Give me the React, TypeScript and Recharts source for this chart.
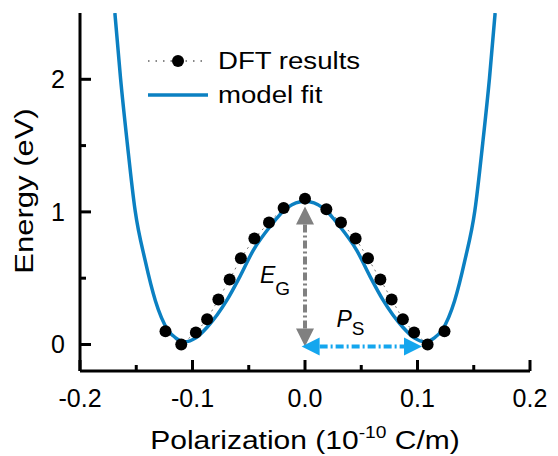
import React from 'react'
import {
  ComposedChart,
  Line,
  XAxis,
  YAxis,
  ReferenceLine,
  ReferenceDot,
  Legend,
} from 'recharts'

// DFT energies along the polarization path
const dftP = [
  -0.124, -0.11, -0.097, -0.087, -0.077, -0.067, -0.057, -0.045, -0.032, -0.019, 0,
  0.019, 0.032, 0.045, 0.056, 0.067, 0.077, 0.087, 0.097, 0.109, 0.124,
]
const dftE = [
  0.1, 0.0, 0.09, 0.19, 0.34, 0.49, 0.65, 0.8, 0.92, 1.03, 1.1,
  1.02, 0.92, 0.8, 0.65, 0.49, 0.34, 0.19, 0.09, 0.0, 0.1,
]

// model fit curve
const fitP = [
  -0.169, -0.164, -0.158, -0.151, -0.142, -0.133, -0.122, -0.115, -0.107, -0.097, -0.087,
  -0.069, -0.058, -0.046, -0.031, -0.016, 0, 0.016, 0.031, 0.046, 0.058, 0.069,
  0.087, 0.097, 0.107, 0.115, 0.122, 0.133, 0.142, 0.151, 0.158, 0.164, 0.169,
]
const fitE = [
  2.5, 2.01, 1.52, 1.01, 0.63, 0.33, 0.11, 0.05, 0.02, 0.05, 0.13,
  0.34, 0.51, 0.71, 0.89, 1.03, 1.08, 1.03, 0.89, 0.71, 0.51, 0.34,
  0.13, 0.05, 0.02, 0.05, 0.11, 0.33, 0.63, 1.01, 1.52, 2.01, 2.5,
]

const xMajor = [-0.2, -0.1, 0, 0.1, 0.2]
const xMinor = [-0.15, -0.05, 0.05, 0.15]
const yMajor = [0, 1, 2]
const yMinor = [0.5, 1.5]

const xDomain: [number, number] = [-0.2, 0.2]
const yDomain: [number, number] = [-0.2, 2.5]

const FONT = '"Liberation Sans", Arial, sans-serif'
const BLUE = '#0b80c2'
const CYAN = '#14a6ee'
const GREY = '#808080'

const dftData = dftP.map((p, i) => ({ p, e: dftE[i] }))
const fitData = fitP.map((p, i) => ({ p, e: fitE[i] }))

const xTicks = [...xMinor, ...xMajor].sort((a, b) => a - b)
const yTicks = [...yMinor, ...yMajor].sort((a, b) => a - b)

const isMajor = (list: number[], v: number) => list.some((m) => Math.abs(m - v) < 1e-9)

function fmtX(v: number) {
  if (Math.abs(v) < 1e-9) return '0.0'
  return v.toFixed(1)
}

function BottomTick(props: any) {
  const { x, y, payload } = props
  const major = isMajor(xMajor, payload.value)
  return (
    <g>
      <line x1={x} x2={x} y1={y} y2={y - (major ? 11 : 6)} stroke="#000" strokeWidth={3} />
      {major && (
        <text x={x} y={y + 36} textAnchor="middle" fontSize={25} fontFamily={FONT} fill="#000">
          {fmtX(payload.value)}
        </text>
      )}
    </g>
  )
}

function TopTick(props: any) {
  const { x, y, payload } = props
  const major = isMajor(xMajor, payload.value)
  return <line x1={x} x2={x} y1={y} y2={y + (major ? 11 : 6)} stroke="#000" strokeWidth={3} />
}

function LeftTick(props: any) {
  const { x, y, payload } = props
  const major = isMajor(yMajor, payload.value)
  return (
    <g>
      <line x1={x} x2={x + (major ? 11 : 6)} y1={y} y2={y} stroke="#000" strokeWidth={3} />
      {major && (
        <text x={x - 15} y={y + 9} textAnchor="end" fontSize={25} fontFamily={FONT} fill="#000">
          {String(payload.value)}
        </text>
      )}
    </g>
  )
}

function RightTick(props: any) {
  const { x, y, payload } = props
  const major = isMajor(yMajor, payload.value)
  return <line x1={x} x2={x - (major ? 11 : 6)} y1={y} y2={y} stroke="#000" strokeWidth={3} />
}

function Arrow(props: any, color: string, dash: string) {
  const { x1, y1, x2, y2 } = props
  const dx = x2 - x1
  const dy = y2 - y1
  const len = Math.sqrt(dx * dx + dy * dy) || 1
  const ux = dx / len
  const uy = dy / len
  const hl = 18
  const hw = 9
  const head = (ax: number, ay: number, dirx: number, diry: number) => {
    const bx = ax - dirx * hl
    const by = ay - diry * hl
    return `${ax},${ay} ${bx - diry * hw},${by + dirx * hw} ${bx + diry * hw},${by - dirx * hw}`
  }
  return (
    <g>
      <line
        x1={x1 + ux * hl}
        y1={y1 + uy * hl}
        x2={x2 - ux * hl}
        y2={y2 - uy * hl}
        stroke={color}
        strokeWidth={4}
        strokeDasharray={dash}
      />
      <polygon points={head(x1, y1, -ux, -uy)} fill={color} />
      <polygon points={head(x2, y2, ux, uy)} fill={color} />
    </g>
  )
}

const wide: React.CSSProperties = {
  display: 'inline-block',
  transform: 'scaleX(1.2)',
  transformOrigin: 'left center',
}

function LegendBox() {
  return (
    <div style={{ fontFamily: FONT, fontSize: 23, color: '#000', lineHeight: '34px', whiteSpace: 'nowrap' }}>
      <div style={{ display: 'flex', alignItems: 'center', height: 34 }}>
        <svg width={72} height={20}>
          <line x1={2} x2={60} y1={10} y2={10} stroke="#888" strokeWidth={2} strokeDasharray="1.5 6" />
          <circle cx={32} cy={10} r={6} fill="#000" />
        </svg>
        <span style={wide}>DFT results</span>
      </div>
      <div style={{ display: 'flex', alignItems: 'center', height: 34 }}>
        <svg width={72} height={20}>
          <line x1={2} x2={62} y1={10} y2={10} stroke={BLUE} strokeWidth={3.5} />
        </svg>
        <span style={wide}>model fit</span>
      </div>
    </div>
  )
}

export default function App() {
  return (
    <div style={{ position: 'absolute', left: 0, top: 0, width: 558, height: 456, background: '#fff' }}>
      <ComposedChart
        width={558}
        height={456}
        margin={{ top: 13, right: 28, left: 0, bottom: 0 }}
      >
        <XAxis
          xAxisId="b"
          type="number"
          dataKey="p"
          domain={xDomain}
          ticks={xTicks}
          allowDataOverflow
          height={85}
          tickSize={0}
          tickMargin={0}
          tick={<BottomTick />}
          axisLine={{ stroke: '#000', strokeWidth: 3 }}
        />
        <XAxis
          xAxisId="t"
          orientation="top"
          type="number"
          dataKey="p"
          domain={xDomain}
          ticks={xTicks}
          allowDataOverflow
          height={0}
          tickSize={0}
          tickMargin={0}
          tick={<TopTick />}
          axisLine={{ stroke: '#000', strokeWidth: 3 }}
        />
        <YAxis
          yAxisId="l"
          type="number"
          domain={yDomain}
          ticks={yTicks}
          allowDataOverflow
          width={80}
          tickSize={0}
          tickMargin={0}
          tick={<LeftTick />}
          axisLine={{ stroke: '#000', strokeWidth: 3 }}
        />
        <YAxis
          yAxisId="r"
          orientation="right"
          type="number"
          domain={yDomain}
          ticks={yTicks}
          allowDataOverflow
          width={0}
          tickSize={0}
          tickMargin={0}
          tick={<RightTick />}
          axisLine={{ stroke: '#000', strokeWidth: 3 }}
        />
        <Legend
          layout="vertical"
          align="center"
          verticalAlign="middle"
          content={<LegendBox />}
          wrapperStyle={{ position: 'absolute', left: 146, top: 44, width: 'auto' }}
        />
        <Line
          xAxisId="b"
          yAxisId="l"
          data={dftData}
          dataKey="e"
          name="DFT results"
          type="linear"
          stroke="#777"
          strokeWidth={1}
          strokeDasharray="2 4"
          dot={{ r: 6, fill: '#000', stroke: 'none' }}
          isAnimationActive={false}
        />
        <Line
          xAxisId="b"
          yAxisId="l"
          data={fitData}
          dataKey="e"
          name="model fit"
          type="monotone"
          stroke={BLUE}
          strokeWidth={3.5}
          dot={false}
          isAnimationActive={false}
        />
        <ReferenceLine
          xAxisId="b"
          yAxisId="l"
          segment={[
            { x: 0, y: 1.04 },
            { x: 0, y: -0.015 },
          ]}
          shape={(p: any) => Arrow(p, GREY, '8 3 2 3')}
        />
        <ReferenceLine
          xAxisId="b"
          yAxisId="l"
          segment={[
            { x: -0.003, y: -0.015 },
            { x: 0.104, y: -0.015 },
          ]}
          shape={(p: any) => Arrow(p, CYAN, '8 3 2 3')}
        />
        <ReferenceDot
          xAxisId="b"
          yAxisId="l"
          x={-0.04}
          y={0.466}
          r={0}
          shape={(p: any) => (
            <text x={p.cx} y={p.cy} fontFamily={FONT} fontSize={23} fill="#000">
              <tspan fontStyle="italic">E</tspan>
              <tspan fontSize={19} dy={12}>G</tspan>
            </text>
          )}
        />
        <ReferenceDot
          xAxisId="b"
          yAxisId="l"
          x={0.028}
          y={0.135}
          r={0}
          shape={(p: any) => (
            <text x={p.cx} y={p.cy} fontFamily={FONT} fontSize={23} fill="#000">
              <tspan fontStyle="italic">P</tspan>
              <tspan fontSize={19} dy={8}>S</tspan>
            </text>
          )}
        />
      </ComposedChart>
      <div
        style={{
          position: 'absolute',
          left: 305,
          top: 425,
          transform: 'translateX(-50%) scaleX(1.2)',
          whiteSpace: 'nowrap',
          fontFamily: FONT,
          fontSize: 25,
          lineHeight: '30px',
          color: '#000',
        }}
      >
        Polarization (10<sup style={{ fontSize: 16, verticalAlign: 0, position: 'relative', top: -11 }}>-10</sup> C/m)
      </div>
      <div
        style={{
          position: 'absolute',
          left: 24,
          top: 191,
          transform: 'translate(-50%, -50%) rotate(-90deg) scaleX(1.24)',
          whiteSpace: 'nowrap',
          fontFamily: FONT,
          fontSize: 25,
          lineHeight: '30px',
          color: '#000',
        }}
      >
        Energy (eV)
      </div>
    </div>
  )
}
